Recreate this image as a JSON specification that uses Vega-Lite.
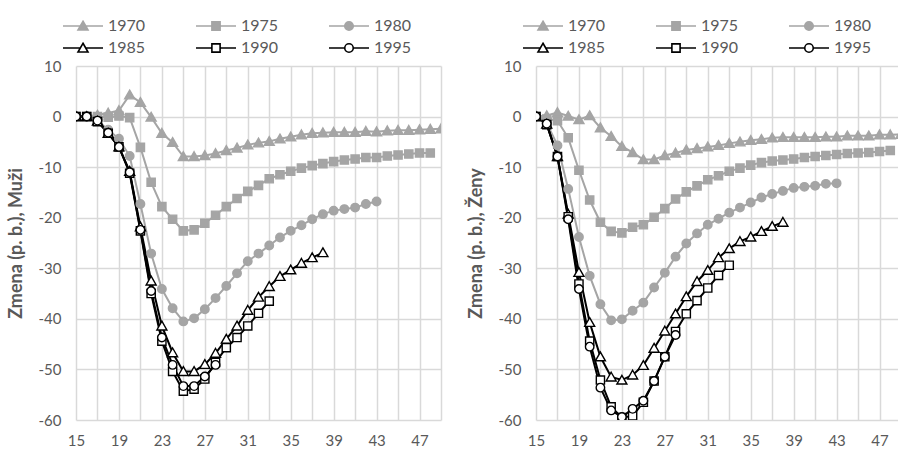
{
  "$schema": "https://vega.github.io/schema/vega-lite/v6.json",
  "padding": {"left": 7, "top": 18, "right": 0, "bottom": 0},
  "background": "white",
  "spacing": 26,
  "config": {
    "font": "Lato",
    "view": {"stroke": null},
    "axis": {"domain": false, "ticks": false, "grid": true, "gridColor": "#d9d9d9", "gridWidth": 1.5, "labelColor": "#595959", "labelFontSize": 15, "labelFont": "Lato", "titleColor": "#595959", "titleFont": "Lato", "titleFontSize": 18, "titleFontWeight": "bold"}
  },
  "data": {"values": [
    {"s":"M","yr":1970,"age":15,"val":0},{"s":"M","yr":1970,"age":16,"val":0},{"s":"M","yr":1970,"age":17,"val":0.3},{"s":"M","yr":1970,"age":18,"val":0.7},{"s":"M","yr":1970,"age":19,"val":1.2},{"s":"M","yr":1970,"age":20,"val":4.3},{"s":"M","yr":1970,"age":21,"val":2.8},{"s":"M","yr":1970,"age":22,"val":-0.1},{"s":"M","yr":1970,"age":23,"val":-3.3},{"s":"M","yr":1970,"age":24,"val":-5.1},{"s":"M","yr":1970,"age":25,"val":-7.9},{"s":"M","yr":1970,"age":26,"val":-7.9},{"s":"M","yr":1970,"age":27,"val":-7.7},{"s":"M","yr":1970,"age":28,"val":-7.3},{"s":"M","yr":1970,"age":29,"val":-6.7},{"s":"M","yr":1970,"age":30,"val":-6.2},{"s":"M","yr":1970,"age":31,"val":-5.6},{"s":"M","yr":1970,"age":32,"val":-5.2},{"s":"M","yr":1970,"age":33,"val":-4.9},{"s":"M","yr":1970,"age":34,"val":-4.4},{"s":"M","yr":1970,"age":35,"val":-4.0},{"s":"M","yr":1970,"age":36,"val":-3.6},{"s":"M","yr":1970,"age":37,"val":-3.3},{"s":"M","yr":1970,"age":38,"val":-3.2},{"s":"M","yr":1970,"age":39,"val":-3.1},{"s":"M","yr":1970,"age":40,"val":-3.1},{"s":"M","yr":1970,"age":41,"val":-3.1},{"s":"M","yr":1970,"age":42,"val":-2.9},{"s":"M","yr":1970,"age":43,"val":-3.0},{"s":"M","yr":1970,"age":44,"val":-2.8},{"s":"M","yr":1970,"age":45,"val":-2.7},{"s":"M","yr":1970,"age":46,"val":-2.7},{"s":"M","yr":1970,"age":47,"val":-2.6},{"s":"M","yr":1970,"age":48,"val":-2.5},{"s":"M","yr":1970,"age":49,"val":-2.4},
    {"s":"M","yr":1975,"age":15,"val":0},{"s":"M","yr":1975,"age":16,"val":0},{"s":"M","yr":1975,"age":17,"val":0},{"s":"M","yr":1975,"age":18,"val":-0.1},{"s":"M","yr":1975,"age":19,"val":0.1},{"s":"M","yr":1975,"age":20,"val":-0.2},{"s":"M","yr":1975,"age":21,"val":-6.1},{"s":"M","yr":1975,"age":22,"val":-13.0},{"s":"M","yr":1975,"age":23,"val":-17.8},{"s":"M","yr":1975,"age":24,"val":-20.3},{"s":"M","yr":1975,"age":25,"val":-22.6},{"s":"M","yr":1975,"age":26,"val":-22.4},{"s":"M","yr":1975,"age":27,"val":-21.1},{"s":"M","yr":1975,"age":28,"val":-19.5},{"s":"M","yr":1975,"age":29,"val":-17.8},{"s":"M","yr":1975,"age":30,"val":-16.2},{"s":"M","yr":1975,"age":31,"val":-14.8},{"s":"M","yr":1975,"age":32,"val":-13.6},{"s":"M","yr":1975,"age":33,"val":-12.3},{"s":"M","yr":1975,"age":34,"val":-11.5},{"s":"M","yr":1975,"age":35,"val":-10.8},{"s":"M","yr":1975,"age":36,"val":-10.2},{"s":"M","yr":1975,"age":37,"val":-9.7},{"s":"M","yr":1975,"age":38,"val":-9.3},{"s":"M","yr":1975,"age":39,"val":-8.9},{"s":"M","yr":1975,"age":40,"val":-8.6},{"s":"M","yr":1975,"age":41,"val":-8.4},{"s":"M","yr":1975,"age":42,"val":-8.1},{"s":"M","yr":1975,"age":43,"val":-8.1},{"s":"M","yr":1975,"age":44,"val":-7.8},{"s":"M","yr":1975,"age":45,"val":-7.6},{"s":"M","yr":1975,"age":46,"val":-7.4},{"s":"M","yr":1975,"age":47,"val":-7.2},{"s":"M","yr":1975,"age":48,"val":-7.2},
    {"s":"M","yr":1980,"age":15,"val":0},{"s":"M","yr":1980,"age":16,"val":0},{"s":"M","yr":1980,"age":17,"val":-0.8},{"s":"M","yr":1980,"age":18,"val":-2.6},{"s":"M","yr":1980,"age":19,"val":-4.4},{"s":"M","yr":1980,"age":20,"val":-7.8},{"s":"M","yr":1980,"age":21,"val":-17.3},{"s":"M","yr":1980,"age":22,"val":-27.1},{"s":"M","yr":1980,"age":23,"val":-34.1},{"s":"M","yr":1980,"age":24,"val":-37.9},{"s":"M","yr":1980,"age":25,"val":-40.5},{"s":"M","yr":1980,"age":26,"val":-39.9},{"s":"M","yr":1980,"age":27,"val":-38.1},{"s":"M","yr":1980,"age":28,"val":-35.9},{"s":"M","yr":1980,"age":29,"val":-33.5},{"s":"M","yr":1980,"age":30,"val":-31.0},{"s":"M","yr":1980,"age":31,"val":-28.6},{"s":"M","yr":1980,"age":32,"val":-27.1},{"s":"M","yr":1980,"age":33,"val":-25.5},{"s":"M","yr":1980,"age":34,"val":-23.9},{"s":"M","yr":1980,"age":35,"val":-22.6},{"s":"M","yr":1980,"age":36,"val":-21.5},{"s":"M","yr":1980,"age":37,"val":-20.3},{"s":"M","yr":1980,"age":38,"val":-19.3},{"s":"M","yr":1980,"age":39,"val":-18.6},{"s":"M","yr":1980,"age":40,"val":-18.3},{"s":"M","yr":1980,"age":41,"val":-18.0},{"s":"M","yr":1980,"age":42,"val":-17.3},{"s":"M","yr":1980,"age":43,"val":-16.8},
    {"s":"M","yr":1985,"age":15,"val":0},{"s":"M","yr":1985,"age":16,"val":0},{"s":"M","yr":1985,"age":17,"val":-0.9},{"s":"M","yr":1985,"age":18,"val":-3.3},{"s":"M","yr":1985,"age":19,"val":-6.0},{"s":"M","yr":1985,"age":20,"val":-10.8},{"s":"M","yr":1985,"age":21,"val":-21.8},{"s":"M","yr":1985,"age":22,"val":-32.5},{"s":"M","yr":1985,"age":23,"val":-41.4},{"s":"M","yr":1985,"age":24,"val":-46.7},{"s":"M","yr":1985,"age":25,"val":-50.4},{"s":"M","yr":1985,"age":26,"val":-50.4},{"s":"M","yr":1985,"age":27,"val":-49.0},{"s":"M","yr":1985,"age":28,"val":-46.8},{"s":"M","yr":1985,"age":29,"val":-44.0},{"s":"M","yr":1985,"age":30,"val":-41.4},{"s":"M","yr":1985,"age":31,"val":-38.3},{"s":"M","yr":1985,"age":32,"val":-35.7},{"s":"M","yr":1985,"age":33,"val":-33.6},{"s":"M","yr":1985,"age":34,"val":-31.6},{"s":"M","yr":1985,"age":35,"val":-30.3},{"s":"M","yr":1985,"age":36,"val":-29.0},{"s":"M","yr":1985,"age":37,"val":-27.9},{"s":"M","yr":1985,"age":38,"val":-26.9},
    {"s":"M","yr":1990,"age":15,"val":0},{"s":"M","yr":1990,"age":16,"val":0},{"s":"M","yr":1990,"age":17,"val":-1.0},{"s":"M","yr":1990,"age":18,"val":-3.3},{"s":"M","yr":1990,"age":19,"val":-6.0},{"s":"M","yr":1990,"age":20,"val":-11.2},{"s":"M","yr":1990,"age":21,"val":-22.6},{"s":"M","yr":1990,"age":22,"val":-35.0},{"s":"M","yr":1990,"age":23,"val":-44.4},{"s":"M","yr":1990,"age":24,"val":-50.4},{"s":"M","yr":1990,"age":25,"val":-54.3},{"s":"M","yr":1990,"age":26,"val":-53.9},{"s":"M","yr":1990,"age":27,"val":-51.9},{"s":"M","yr":1990,"age":28,"val":-48.6},{"s":"M","yr":1990,"age":29,"val":-45.7},{"s":"M","yr":1990,"age":30,"val":-43.7},{"s":"M","yr":1990,"age":31,"val":-41.4},{"s":"M","yr":1990,"age":32,"val":-38.9},{"s":"M","yr":1990,"age":33,"val":-36.5},
    {"s":"M","yr":1995,"age":15,"val":0},{"s":"M","yr":1995,"age":16,"val":0},{"s":"M","yr":1995,"age":17,"val":-0.8},{"s":"M","yr":1995,"age":18,"val":-3.2},{"s":"M","yr":1995,"age":19,"val":-6.0},{"s":"M","yr":1995,"age":20,"val":-11.0},{"s":"M","yr":1995,"age":21,"val":-22.4},{"s":"M","yr":1995,"age":22,"val":-34.5},{"s":"M","yr":1995,"age":23,"val":-43.7},{"s":"M","yr":1995,"age":24,"val":-49.1},{"s":"M","yr":1995,"age":25,"val":-53.3},{"s":"M","yr":1995,"age":26,"val":-53.3},{"s":"M","yr":1995,"age":27,"val":-51.4},{"s":"M","yr":1995,"age":28,"val":-49.1},
    {"s":"Z","yr":1970,"age":15,"val":0},{"s":"Z","yr":1970,"age":16,"val":0.2},{"s":"Z","yr":1970,"age":17,"val":0.8},{"s":"Z","yr":1970,"age":18,"val":0.1},{"s":"Z","yr":1970,"age":19,"val":-0.6},{"s":"Z","yr":1970,"age":20,"val":0.2},{"s":"Z","yr":1970,"age":21,"val":-2.2},{"s":"Z","yr":1970,"age":22,"val":-3.9},{"s":"Z","yr":1970,"age":23,"val":-5.9},{"s":"Z","yr":1970,"age":24,"val":-7.1},{"s":"Z","yr":1970,"age":25,"val":-8.5},{"s":"Z","yr":1970,"age":26,"val":-8.5},{"s":"Z","yr":1970,"age":27,"val":-7.7},{"s":"Z","yr":1970,"age":28,"val":-7.2},{"s":"Z","yr":1970,"age":29,"val":-6.6},{"s":"Z","yr":1970,"age":30,"val":-6.3},{"s":"Z","yr":1970,"age":31,"val":-6.0},{"s":"Z","yr":1970,"age":32,"val":-5.7},{"s":"Z","yr":1970,"age":33,"val":-5.3},{"s":"Z","yr":1970,"age":34,"val":-5.0},{"s":"Z","yr":1970,"age":35,"val":-4.7},{"s":"Z","yr":1970,"age":36,"val":-4.5},{"s":"Z","yr":1970,"age":37,"val":-4.2},{"s":"Z","yr":1970,"age":38,"val":-4.1},{"s":"Z","yr":1970,"age":39,"val":-4.1},{"s":"Z","yr":1970,"age":40,"val":-4.1},{"s":"Z","yr":1970,"age":41,"val":-4.1},{"s":"Z","yr":1970,"age":42,"val":-4.0},{"s":"Z","yr":1970,"age":43,"val":-4.0},{"s":"Z","yr":1970,"age":44,"val":-3.8},{"s":"Z","yr":1970,"age":45,"val":-3.8},{"s":"Z","yr":1970,"age":46,"val":-3.8},{"s":"Z","yr":1970,"age":47,"val":-3.6},{"s":"Z","yr":1970,"age":48,"val":-3.6},{"s":"Z","yr":1970,"age":49,"val":-3.5},
    {"s":"Z","yr":1975,"age":15,"val":0},{"s":"Z","yr":1975,"age":16,"val":-0.5},{"s":"Z","yr":1975,"age":17,"val":-0.8},{"s":"Z","yr":1975,"age":18,"val":-4.2},{"s":"Z","yr":1975,"age":19,"val":-10.6},{"s":"Z","yr":1975,"age":20,"val":-16.5},{"s":"Z","yr":1975,"age":21,"val":-20.9},{"s":"Z","yr":1975,"age":22,"val":-22.7},{"s":"Z","yr":1975,"age":23,"val":-23.0},{"s":"Z","yr":1975,"age":24,"val":-21.9},{"s":"Z","yr":1975,"age":25,"val":-21.4},{"s":"Z","yr":1975,"age":26,"val":-19.9},{"s":"Z","yr":1975,"age":27,"val":-18.2},{"s":"Z","yr":1975,"age":28,"val":-16.3},{"s":"Z","yr":1975,"age":29,"val":-14.9},{"s":"Z","yr":1975,"age":30,"val":-13.7},{"s":"Z","yr":1975,"age":31,"val":-12.5},{"s":"Z","yr":1975,"age":32,"val":-11.7},{"s":"Z","yr":1975,"age":33,"val":-10.8},{"s":"Z","yr":1975,"age":34,"val":-10.2},{"s":"Z","yr":1975,"age":35,"val":-9.6},{"s":"Z","yr":1975,"age":36,"val":-9.1},{"s":"Z","yr":1975,"age":37,"val":-8.8},{"s":"Z","yr":1975,"age":38,"val":-8.6},{"s":"Z","yr":1975,"age":39,"val":-8.4},{"s":"Z","yr":1975,"age":40,"val":-8.1},{"s":"Z","yr":1975,"age":41,"val":-7.9},{"s":"Z","yr":1975,"age":42,"val":-7.7},{"s":"Z","yr":1975,"age":43,"val":-7.5},{"s":"Z","yr":1975,"age":44,"val":-7.3},{"s":"Z","yr":1975,"age":45,"val":-7.2},{"s":"Z","yr":1975,"age":46,"val":-7.1},{"s":"Z","yr":1975,"age":47,"val":-6.9},{"s":"Z","yr":1975,"age":48,"val":-6.7},
    {"s":"Z","yr":1980,"age":15,"val":0},{"s":"Z","yr":1980,"age":16,"val":-1.3},{"s":"Z","yr":1980,"age":17,"val":-5.7},{"s":"Z","yr":1980,"age":18,"val":-14.3},{"s":"Z","yr":1980,"age":19,"val":-23.8},{"s":"Z","yr":1980,"age":20,"val":-31.5},{"s":"Z","yr":1980,"age":21,"val":-37.1},{"s":"Z","yr":1980,"age":22,"val":-40.3},{"s":"Z","yr":1980,"age":23,"val":-40.1},{"s":"Z","yr":1980,"age":24,"val":-38.4},{"s":"Z","yr":1980,"age":25,"val":-36.8},{"s":"Z","yr":1980,"age":26,"val":-33.8},{"s":"Z","yr":1980,"age":27,"val":-30.9},{"s":"Z","yr":1980,"age":28,"val":-27.7},{"s":"Z","yr":1980,"age":29,"val":-25.1},{"s":"Z","yr":1980,"age":30,"val":-23.1},{"s":"Z","yr":1980,"age":31,"val":-21.4},{"s":"Z","yr":1980,"age":32,"val":-20.2},{"s":"Z","yr":1980,"age":33,"val":-19.0},{"s":"Z","yr":1980,"age":34,"val":-18.0},{"s":"Z","yr":1980,"age":35,"val":-17.0},{"s":"Z","yr":1980,"age":36,"val":-16.0},{"s":"Z","yr":1980,"age":37,"val":-15.3},{"s":"Z","yr":1980,"age":38,"val":-14.7},{"s":"Z","yr":1980,"age":39,"val":-14.1},{"s":"Z","yr":1980,"age":40,"val":-13.9},{"s":"Z","yr":1980,"age":41,"val":-13.7},{"s":"Z","yr":1980,"age":42,"val":-13.3},{"s":"Z","yr":1980,"age":43,"val":-13.2},
    {"s":"Z","yr":1985,"age":15,"val":0},{"s":"Z","yr":1985,"age":16,"val":-1.5},{"s":"Z","yr":1985,"age":17,"val":-7.9},{"s":"Z","yr":1985,"age":18,"val":-19.3},{"s":"Z","yr":1985,"age":19,"val":-30.8},{"s":"Z","yr":1985,"age":20,"val":-40.7},{"s":"Z","yr":1985,"age":21,"val":-47.5},{"s":"Z","yr":1985,"age":22,"val":-51.5},{"s":"Z","yr":1985,"age":23,"val":-52.1},{"s":"Z","yr":1985,"age":24,"val":-51.1},{"s":"Z","yr":1985,"age":25,"val":-49.2},{"s":"Z","yr":1985,"age":26,"val":-45.8},{"s":"Z","yr":1985,"age":27,"val":-42.4},{"s":"Z","yr":1985,"age":28,"val":-39.0},{"s":"Z","yr":1985,"age":29,"val":-35.6},{"s":"Z","yr":1985,"age":30,"val":-32.6},{"s":"Z","yr":1985,"age":31,"val":-30.4},{"s":"Z","yr":1985,"age":32,"val":-27.9},{"s":"Z","yr":1985,"age":33,"val":-26.1},{"s":"Z","yr":1985,"age":34,"val":-24.7},{"s":"Z","yr":1985,"age":35,"val":-23.8},{"s":"Z","yr":1985,"age":36,"val":-22.7},{"s":"Z","yr":1985,"age":37,"val":-21.7},{"s":"Z","yr":1985,"age":38,"val":-20.9},
    {"s":"Z","yr":1990,"age":15,"val":0},{"s":"Z","yr":1990,"age":16,"val":-1.6},{"s":"Z","yr":1990,"age":17,"val":-7.9},{"s":"Z","yr":1990,"age":18,"val":-19.8},{"s":"Z","yr":1990,"age":19,"val":-33.1},{"s":"Z","yr":1990,"age":20,"val":-44.4},{"s":"Z","yr":1990,"age":21,"val":-52.1},{"s":"Z","yr":1990,"age":22,"val":-57.4},{"s":"Z","yr":1990,"age":23,"val":-59.5},{"s":"Z","yr":1990,"age":24,"val":-59.2},{"s":"Z","yr":1990,"age":25,"val":-56.5},{"s":"Z","yr":1990,"age":26,"val":-52.3},{"s":"Z","yr":1990,"age":27,"val":-47.5},{"s":"Z","yr":1990,"age":28,"val":-42.5},{"s":"Z","yr":1990,"age":29,"val":-39.0},{"s":"Z","yr":1990,"age":30,"val":-36.4},{"s":"Z","yr":1990,"age":31,"val":-33.9},{"s":"Z","yr":1990,"age":32,"val":-31.4},{"s":"Z","yr":1990,"age":33,"val":-29.4},
    {"s":"Z","yr":1995,"age":15,"val":0},{"s":"Z","yr":1995,"age":16,"val":-1.4},{"s":"Z","yr":1995,"age":17,"val":-7.9},{"s":"Z","yr":1995,"age":18,"val":-20.3},{"s":"Z","yr":1995,"age":19,"val":-34.1},{"s":"Z","yr":1995,"age":20,"val":-45.5},{"s":"Z","yr":1995,"age":21,"val":-53.6},{"s":"Z","yr":1995,"age":22,"val":-58.1},{"s":"Z","yr":1995,"age":23,"val":-59.4},{"s":"Z","yr":1995,"age":24,"val":-57.8},{"s":"Z","yr":1995,"age":25,"val":-56.2},{"s":"Z","yr":1995,"age":26,"val":-52.3},{"s":"Z","yr":1995,"age":27,"val":-47.5},{"s":"Z","yr":1995,"age":28,"val":-43.2}
  ]},
  "hconcat": [
    {
      "width": 365, "height": 354,
      "transform": [{"filter": "datum.s == 'M'"}],
      "resolve": {"scale": {"shape": "independent", "fill": "independent", "stroke": "independent"}},
      "encoding": {
        "x": {"field": "age", "type": "quantitative", "scale": {"domain": [15, 49], "nice": false, "zero": false}, "axis": {"title": null, "values": [15,17,19,21,23,25,27,29,31,33,35,37,39,41,43,45,47,49], "labelExpr": "(datum.value - 15) % 4 == 0 ? '' + datum.value : ''", "labelPadding": 13, "labelFlush": false, "labelOverlap": false}},
        "y": {"field": "val", "type": "quantitative", "scale": {"domain": [-60, 10], "nice": false, "zero": false}, "axis": {"title": "Zmena (p. b.), Muži", "values": [-60,-50,-40,-30,-20,-10,0,10], "labelExpr": "'' + datum.value", "labelPadding": 15, "titlePadding": 13}}
      },
      "layer": [
        {"mark": {"type": "line", "strokeWidth": 2, "clip": true},
         "encoding": {"stroke": {"field": "yr", "type": "nominal", "scale": {"domain": [1970,1975,1980,1985,1990,1995], "range": ["#a5a5a5","#a5a5a5","#a5a5a5","#000000","#000000","#000000"]}, "legend": null}}},
        {"mark": {"type": "point", "filled": true, "opacity": 1, "size": 100, "strokeWidth": 1.4, "clip": true},
         "encoding": {
           "shape": {"field": "yr", "type": "nominal", "scale": {"domain": [1970,1975,1980,1985,1990,1995], "range": ["M0,-0.95L1,0.8L-1,0.8Z","M-0.82,-0.82H0.82V0.82H-0.82Z","M-0.85,0A0.85,0.85 0 1,0 0.85,0A0.85,0.85 0 1,0 -0.85,0Z","M0,-0.95L1,0.8L-1,0.8Z","M-0.82,-0.82H0.82V0.82H-0.82Z","M-0.85,0A0.85,0.85 0 1,0 0.85,0A0.85,0.85 0 1,0 -0.85,0Z"]}, "legend": null},
           "fill": {"field": "yr", "type": "nominal", "scale": {"domain": [1970,1975,1980,1985,1990,1995], "range": ["#a5a5a5","#a5a5a5","#a5a5a5","#ffffff","#ffffff","#ffffff"]}, "legend": null},
           "stroke": {"field": "yr", "type": "nominal", "scale": {"domain": [1970,1975,1980,1985,1990,1995], "range": ["#a5a5a5","#a5a5a5","#a5a5a5","#000000","#000000","#000000"]}, "legend": null}
         }},
        {"transform": [{"filter": "datum.age < 0"}],
         "mark": {"type": "point", "filled": true, "opacity": 1, "size": 100, "strokeWidth": 1.6},
         "encoding": {
           "shape": {"field": "yr", "type": "nominal", "scale": {"domain": [1970,1975,1980,1985,1990,1995], "range": ["M-4,0H-0.54M0.54,0H4M0,-0.95L1,0.8L-1,0.8Z","M-4,0H-0.82M0.82,0H4M-0.82,-0.82H0.82V0.82H-0.82Z","M-4,0H-0.85M0.85,0H4M-0.85,0A0.85,0.85 0 1,0 0.85,0A0.85,0.85 0 1,0 -0.85,0Z","M-4,0H-0.54M0.54,0H4M0,-0.95L1,0.8L-1,0.8Z","M-4,0H-0.82M0.82,0H4M-0.82,-0.82H0.82V0.82H-0.82Z","M-4,0H-0.85M0.85,0H4M-0.85,0A0.85,0.85 0 1,0 0.85,0A0.85,0.85 0 1,0 -0.85,0Z"]},
             "legend": {"title": null, "orient": "none", "legendX": -1, "legendY": -48, "columns": 3, "direction": "horizontal", "symbolSize": 100, "symbolStrokeWidth": 1.6, "symbolOpacity": 1, "labelFontSize": 16, "labelFont": "Lato", "labelColor": "#595959", "labelOffset": 17, "columnPadding": 46, "rowPadding": 6}},
           "fill": {"field": "yr", "type": "nominal", "scale": {"domain": [1970,1975,1980,1985,1990,1995], "range": ["#a5a5a5","#a5a5a5","#a5a5a5","#ffffff","#ffffff","#ffffff"]},
             "legend": {"title": null, "orient": "none", "legendX": -1, "legendY": -48, "columns": 3, "direction": "horizontal", "symbolSize": 100, "symbolStrokeWidth": 1.6, "symbolOpacity": 1, "labelFontSize": 16, "labelFont": "Lato", "labelColor": "#595959", "labelOffset": 17, "columnPadding": 46, "rowPadding": 6}},
           "stroke": {"field": "yr", "type": "nominal", "scale": {"domain": [1970,1975,1980,1985,1990,1995], "range": ["#a5a5a5","#a5a5a5","#a5a5a5","#000000","#000000","#000000"]},
             "legend": {"title": null, "orient": "none", "legendX": -1, "legendY": -48, "columns": 3, "direction": "horizontal", "symbolSize": 100, "symbolStrokeWidth": 1.6, "symbolOpacity": 1, "labelFontSize": 16, "labelFont": "Lato", "labelColor": "#595959", "labelOffset": 17, "columnPadding": 46, "rowPadding": 6}}
         }}
      ]
    },
    {
      "width": 362, "height": 354,
      "transform": [{"filter": "datum.s == 'Z'"}],
      "resolve": {"scale": {"shape": "independent", "fill": "independent", "stroke": "independent"}},
      "encoding": {
        "x": {"field": "age", "type": "quantitative", "scale": {"domain": [15, 48.72], "nice": false, "zero": false}, "axis": {"title": null, "values": [15,17,19,21,23,25,27,29,31,33,35,37,39,41,43,45,47], "labelExpr": "(datum.value - 15) % 4 == 0 ? '' + datum.value : ''", "labelPadding": 13, "labelFlush": false, "labelOverlap": false}},
        "y": {"field": "val", "type": "quantitative", "scale": {"domain": [-60, 10], "nice": false, "zero": false}, "axis": {"title": "Zmena (p. b.), Ženy", "values": [-60,-50,-40,-30,-20,-10,0,10], "labelExpr": "'' + datum.value", "labelPadding": 15, "titlePadding": 13}}
      },
      "layer": [
        {"mark": {"type": "line", "strokeWidth": 2, "clip": true},
         "encoding": {"stroke": {"field": "yr", "type": "nominal", "scale": {"domain": [1970,1975,1980,1985,1990,1995], "range": ["#a5a5a5","#a5a5a5","#a5a5a5","#000000","#000000","#000000"]}, "legend": null}}},
        {"mark": {"type": "point", "filled": true, "opacity": 1, "size": 100, "strokeWidth": 1.4, "clip": true},
         "encoding": {
           "shape": {"field": "yr", "type": "nominal", "scale": {"domain": [1970,1975,1980,1985,1990,1995], "range": ["M0,-0.95L1,0.8L-1,0.8Z","M-0.82,-0.82H0.82V0.82H-0.82Z","M-0.85,0A0.85,0.85 0 1,0 0.85,0A0.85,0.85 0 1,0 -0.85,0Z","M0,-0.95L1,0.8L-1,0.8Z","M-0.82,-0.82H0.82V0.82H-0.82Z","M-0.85,0A0.85,0.85 0 1,0 0.85,0A0.85,0.85 0 1,0 -0.85,0Z"]}, "legend": null},
           "fill": {"field": "yr", "type": "nominal", "scale": {"domain": [1970,1975,1980,1985,1990,1995], "range": ["#a5a5a5","#a5a5a5","#a5a5a5","#ffffff","#ffffff","#ffffff"]}, "legend": null},
           "stroke": {"field": "yr", "type": "nominal", "scale": {"domain": [1970,1975,1980,1985,1990,1995], "range": ["#a5a5a5","#a5a5a5","#a5a5a5","#000000","#000000","#000000"]}, "legend": null}
         }},
        {"transform": [{"filter": "datum.age < 0"}],
         "mark": {"type": "point", "filled": true, "opacity": 1, "size": 100, "strokeWidth": 1.6},
         "encoding": {
           "shape": {"field": "yr", "type": "nominal", "scale": {"domain": [1970,1975,1980,1985,1990,1995], "range": ["M-4,0H-0.54M0.54,0H4M0,-0.95L1,0.8L-1,0.8Z","M-4,0H-0.82M0.82,0H4M-0.82,-0.82H0.82V0.82H-0.82Z","M-4,0H-0.85M0.85,0H4M-0.85,0A0.85,0.85 0 1,0 0.85,0A0.85,0.85 0 1,0 -0.85,0Z","M-4,0H-0.54M0.54,0H4M0,-0.95L1,0.8L-1,0.8Z","M-4,0H-0.82M0.82,0H4M-0.82,-0.82H0.82V0.82H-0.82Z","M-4,0H-0.85M0.85,0H4M-0.85,0A0.85,0.85 0 1,0 0.85,0A0.85,0.85 0 1,0 -0.85,0Z"]},
             "legend": {"title": null, "orient": "none", "legendX": -1, "legendY": -48, "columns": 3, "direction": "horizontal", "symbolSize": 100, "symbolStrokeWidth": 1.6, "symbolOpacity": 1, "labelFontSize": 16, "labelFont": "Lato", "labelColor": "#595959", "labelOffset": 17, "columnPadding": 46, "rowPadding": 6}},
           "fill": {"field": "yr", "type": "nominal", "scale": {"domain": [1970,1975,1980,1985,1990,1995], "range": ["#a5a5a5","#a5a5a5","#a5a5a5","#ffffff","#ffffff","#ffffff"]},
             "legend": {"title": null, "orient": "none", "legendX": -1, "legendY": -48, "columns": 3, "direction": "horizontal", "symbolSize": 100, "symbolStrokeWidth": 1.6, "symbolOpacity": 1, "labelFontSize": 16, "labelFont": "Lato", "labelColor": "#595959", "labelOffset": 17, "columnPadding": 46, "rowPadding": 6}},
           "stroke": {"field": "yr", "type": "nominal", "scale": {"domain": [1970,1975,1980,1985,1990,1995], "range": ["#a5a5a5","#a5a5a5","#a5a5a5","#000000","#000000","#000000"]},
             "legend": {"title": null, "orient": "none", "legendX": -1, "legendY": -48, "columns": 3, "direction": "horizontal", "symbolSize": 100, "symbolStrokeWidth": 1.6, "symbolOpacity": 1, "labelFontSize": 16, "labelFont": "Lato", "labelColor": "#595959", "labelOffset": 17, "columnPadding": 46, "rowPadding": 6}}
         }}
      ]
    }
  ]
}
